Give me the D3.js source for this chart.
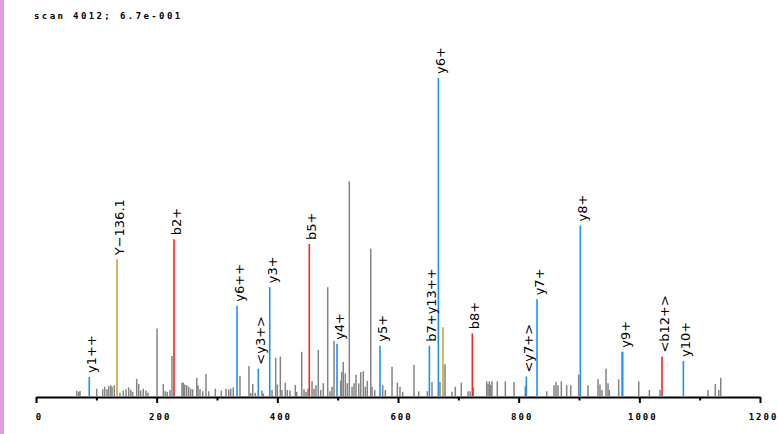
<!DOCTYPE html>
<html><head><meta charset="utf-8">
<script src="https://cdn.jsdelivr.net/npm/d3@7"></script>
<style>
html,body{margin:0;padding:0;background:#fff;}
svg{display:block;}
</style></head>
<body>
<svg id="chart" width="778" height="434"></svg>
<script>
// ---- data ----
const title = "scan 4012; 6.7e-001";
const xTicksMajor = [0, 200, 400, 600, 800, 1000, 1200];
const xTicksMinor = [100, 300, 500, 700, 900, 1100];

// unassigned (gray) peaks: m/z and relative intensity (%)
const grayMz = [67.5,70.8,72.9,100.6,110.6,113.9,117.7,120.5,123.8,126.0,129.8,139.2,144.7,149.2,153.6,157.0,160.3,166.9,170.2,173.5,177.8,182.3,185.6,200.6,211.0,214.3,217.6,222.1,225.4,242.0,244.1,246.5,249.8,253.1,256.4,259.7,266.4,268.5,271.8,276.3,281.8,286.3,297.2,307.1,314.9,319.4,322.7,327.0,338.1,353.0,355.9,359.2,363.5,374.6,376.8,391.2,397.3,400.0,405.0,407.7,413.2,416.5,421.0,429.8,432.1,440.4,444.2,447.5,450.8,457.5,460.8,464.1,467.9,471.9,476.2,483.5,487.3,490.6,494.0,505.0,506.7,509.3,512.7,516.0,519.3,523.8,527.1,530.4,534.9,538.2,542.5,545.8,549.1,554.8,556.9,561.4,574.7,579.0,590.1,598.9,603.3,607.8,626.5,634.3,648.6,656.4,669.6,677.9,689.5,695.0,704.9,716.0,719.4,724.8,747.0,749.2,751.4,753.7,755.8,764.6,777.9,792.3,811.0,846.5,858.6,861.9,865.2,870.7,879.6,886.3,899.5,914.9,931.5,934.8,938.1,944.8,948.1,950.3,965.8,971.3,999.0,1016.6,1034.3,1113.8,1125.9,1131.6,1134.9];
const grayInt = [1.7,1.3,1.6,2.3,2.1,2.9,2.1,3.1,3.4,2.9,3.4,1.0,1.7,2.1,2.7,1.9,1.3,5.4,3.8,1.7,2.3,1.7,1.0,21.2,3.8,1.5,1.3,1.9,12.6,4.2,4.2,3.6,3.4,2.9,2.3,2.1,5.7,3.4,2.1,1.5,6.9,1.5,2.3,1.7,2.3,2.1,2.3,2.7,6.3,9.4,1.0,3.8,1.0,1.7,0.8,1.9,12.0,3.6,12.4,1.9,4.2,1.9,1.7,3.5,1.3,13.9,2.1,1.3,2.3,4.6,2.3,3.4,14.5,1.9,4.0,34.2,1.5,2.9,17.4,4.8,7.6,10.7,7.1,4.0,67.5,2.9,4.0,6.7,4.0,7.5,7.8,2.9,4.8,46.3,2.9,1.9,3.4,1.9,9.2,4.2,2.9,1.3,9.8,1.5,1.5,4.4,4.4,10.0,1.3,2.9,4.2,1.5,1.5,2.7,4.6,3.8,4.6,3.5,4.6,4.6,4.6,4.4,3.1,1.5,3.4,4.4,3.4,4.6,3.4,3.4,6.7,3.4,5.3,3.6,1.9,8.6,4.0,1.9,5.3,13.9,4.6,1.9,1.9,1.9,3.8,1.9,5.7];

// assigned peaks
const ionMz    = [88.3, 134.3, 228.8, 333.2, 368.5, 387.4, 453.0, 498.9, 570.2, 652.0, 666.9, 674.6, 723.2, 812.7, 830.4, 902.2, 972.4, 1037.6, 1073.0];
const ionInt   = [6.0, 43.0, 49.3, 28.4, 8.6, 34.2, 47.8, 16.4, 15.8, 15.8, 100, 21.6, 19.7, 6.1, 30.4, 53.6, 13.9, 12.4, 11.0];
const ionLabel = ["y1++", "Y\u2212136.1", "b2+", "y6++", "<y3+>", "y3+", "b5+", "y4+", "y5+", "b7+y13++", "y6+", "", "b8+", "<y7+>", "y7+", "y8+", "y9+", "<b12+>", "y10+"];
const ionType  = ["y", "other", "b", "y", "y", "y", "b", "y", "y", "y", "y", "other", "b", "y", "y", "y", "y", "b", "y"];

// ---- drawing ----
const svg = d3.select("#chart");
const x = d3.scaleLinear().domain([0, 1200]).range([36, 760]);
const y = d3.scaleLinear().domain([0, 100]).range([396, 78]);
const color = d3.scaleOrdinal().domain(["y", "b", "other"]).range(["#1e8fff", "#ff2222", "#c9a52c"]);

svg.append("rect").attr("x", 0).attr("y", 0).attr("width", 4).attr("height", 434).attr("fill", "#dba0dc");

svg.append("text").attr("x", 34).attr("y", 18.5)
  .attr("font-family", "DejaVu Sans Mono").attr("font-weight", "bold").attr("font-size", 9)
  .attr("letter-spacing", 2.4).attr("fill", "#000").text(title);

const gray = grayMz.map((m, i) => ({mz: m, v: grayInt[i]}));
svg.append("g").selectAll("line").data(gray).join("line")
  .attr("x1", d => x(d.mz)).attr("x2", d => x(d.mz))
  .attr("y1", y(0)).attr("y2", d => y(d.v))
  .attr("stroke", "#838383").attr("stroke-width", 1.5);

const ions = ionMz.map((m, i) => ({mz: m, v: ionInt[i], label: ionLabel[i], type: ionType[i]}));
svg.append("g").selectAll("line").data(ions).join("line")
  .attr("x1", d => x(d.mz)).attr("x2", d => x(d.mz))
  .attr("y1", y(0)).attr("y2", d => y(d.v))
  .attr("stroke", d => color(d.type)).attr("stroke-width", 1.6);

svg.append("g").selectAll("text").data(ions.filter(d => d.label)).join("text")
  .attr("transform", d => `translate(${x(d.mz) + 7},${y(d.v) - 4}) rotate(-90)`)
  .attr("font-family", "DejaVu Sans").attr("font-size", 13).attr("fill", "#000")
  .text(d => d.label);

// axes
const axisMajor = d3.axisBottom(x).tickValues(xTicksMajor).tickSize(6).tickSizeOuter(0).tickFormat(d3.format("d"));
const gA = svg.append("g").attr("transform", "translate(0,397)").call(axisMajor);
gA.select(".domain").attr("stroke", "#000").attr("stroke-width", 2);
gA.selectAll(".tick line").attr("stroke", "#000").attr("stroke-width", 2);
gA.selectAll(".tick text").attr("font-family", "DejaVu Sans Mono").attr("font-weight", "bold")
  .attr("font-size", 9).attr("letter-spacing", 2).attr("fill", "#000")
  .attr("dy", null).attr("y", 22.5).attr("dx", 3);

const axisMinor = d3.axisBottom(x).tickValues(xTicksMinor).tickSize(3.5).tickSizeOuter(0).tickFormat("");
const gB = svg.append("g").attr("transform", "translate(0,397)").call(axisMinor);
gB.select(".domain").remove();
gB.selectAll(".tick line").attr("stroke", "#000").attr("stroke-width", 2);
</script>
</body></html>
